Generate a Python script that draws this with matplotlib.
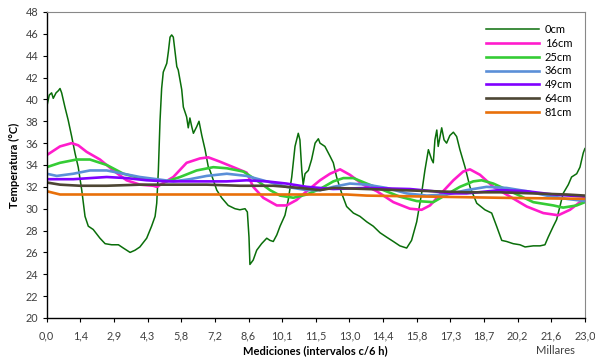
import numpy as np
import matplotlib
matplotlib.use("Agg")
import matplotlib.pyplot as plt

plt.rcParams['font.family'] = ['Lato', 'DejaVu Sans']

# x in thousands of measurements (Millares)
x_0 = [0.00, 0.11, 0.21, 0.28, 0.40, 0.50, 0.57, 0.64, 0.78, 0.92, 1.07, 1.21, 1.35, 1.50, 1.57, 1.64,
       1.78, 1.99, 2.28, 2.50, 2.78, 3.07, 3.28, 3.57, 3.78, 3.99, 4.28, 4.49, 4.64, 4.71, 4.78, 4.85,
       4.92, 4.99, 5.14, 5.21, 5.28, 5.35, 5.42, 5.57, 5.63, 5.78, 5.85, 5.99, 6.06, 6.13, 6.21, 6.28,
       6.42, 6.52, 6.64, 6.78, 6.92, 6.99, 7.28, 7.49, 7.77, 8.06, 8.27, 8.49, 8.59, 8.66, 8.70, 8.84,
       8.99, 9.20, 9.42, 9.56, 9.70, 9.85, 9.99, 10.20, 10.34, 10.49, 10.63, 10.77, 10.84, 10.92, 10.98,
       11.06, 11.20, 11.34, 11.49, 11.63, 11.70, 11.91, 12.13, 12.27, 12.41, 12.63, 12.84, 13.13, 13.41,
       13.70, 13.98, 14.27, 14.55, 14.84, 15.12, 15.41, 15.62, 15.84, 16.05, 16.19, 16.34, 16.48, 16.55,
       16.62, 16.70, 16.76, 16.91, 17.01, 17.12, 17.26, 17.41, 17.55, 17.69, 17.91, 18.12, 18.41, 18.76,
       19.05, 19.26, 19.48, 19.69, 19.97, 20.26, 20.48, 20.83, 21.12, 21.33, 21.47, 21.69, 21.83, 21.97,
       22.11, 22.33, 22.47, 22.69, 22.83, 22.97, 23.04]
t_0 = [39.3, 40.4, 40.6, 40.1, 40.6, 40.8, 41.0, 40.6, 39.3, 38.1, 36.6, 35.1, 33.8, 31.7, 30.5, 29.3,
       28.4, 28.1, 27.3, 26.8, 26.7, 26.7, 26.4, 26.0, 26.2, 26.5, 27.3, 28.4, 29.3, 30.5, 33.5, 38.0,
       41.0, 42.5, 43.3, 44.4, 45.7, 45.9, 45.7, 43.0, 42.7, 40.9, 39.3, 38.4, 37.4, 38.3, 37.5, 36.9,
       37.5, 38.0, 36.7, 35.4, 33.8, 33.5, 31.7, 31.0, 30.3, 30.0, 29.9, 30.0, 29.7, 27.4, 24.9, 25.3,
       26.2, 26.8, 27.3, 27.1, 27.0, 27.6, 28.4, 29.4, 30.8, 32.9, 35.7, 36.9, 36.3, 33.5, 32.2,
       33.2, 33.5, 34.5, 36.0, 36.4, 36.0, 35.7, 34.8, 34.2, 32.9, 31.4, 30.2, 29.6, 29.3,
       28.8, 28.4, 27.8, 27.4, 27.0, 26.6, 26.4, 27.1, 28.8, 31.4, 33.5, 35.4, 34.5, 34.2,
       36.3, 37.2, 35.7, 37.4, 36.3, 36.0, 36.7, 37.0, 36.6, 35.4, 33.8, 32.0, 30.5, 29.9,
       29.6, 28.4, 27.1, 27.0, 26.8, 26.7, 26.5, 26.6, 26.6, 26.7, 27.4, 28.4, 29.0, 30.2,
       31.4, 32.2, 32.9, 33.2, 33.8, 35.1, 35.5]

x_16 = [0.00, 0.57, 1.07, 1.35, 1.71, 2.28, 2.85, 3.42, 3.99, 4.56, 4.72, 5.42, 5.99, 6.56, 6.92, 7.42,
        7.99, 8.56, 8.84, 9.27, 9.85, 10.27, 10.70, 11.13, 11.70, 12.13, 12.56, 12.98, 13.55, 14.13,
        14.84, 15.55, 16.05, 16.41, 16.84, 17.41, 17.83, 18.12, 18.55, 19.12, 19.84, 20.55, 21.26,
        21.90, 22.40, 22.83, 23.04]
t_16 = [34.9, 35.7, 36.0, 35.8, 35.2, 34.5, 33.5, 32.6, 32.2, 32.1, 32.0, 32.9, 34.2, 34.6, 34.7, 34.3,
        33.8, 33.3, 32.0, 31.0, 30.3, 30.3, 30.8, 31.6, 32.6, 33.2, 33.6, 33.1, 32.2, 31.6,
        30.6, 30.0, 29.9, 30.3, 31.3, 32.6, 33.4, 33.6, 33.1, 32.0, 31.1, 30.2, 29.6,
        29.4, 29.9, 30.6, 31.1]

x_25 = [0.00, 0.57, 1.28, 1.85, 2.57, 3.28, 3.99, 4.71, 5.14, 5.71, 6.42, 7.13, 7.71, 8.42, 8.99, 9.56,
        9.99, 10.56, 11.13, 11.70, 12.27, 12.70, 13.13, 13.70, 14.41, 15.12, 15.84, 16.55, 17.12,
        17.69, 18.26, 18.62, 19.12, 19.84, 20.83, 21.69, 22.11, 22.69, 23.04]
t_25 = [33.8, 34.2, 34.5, 34.5, 34.0, 33.2, 32.8, 32.6, 32.5, 32.9, 33.5, 33.8, 33.7, 33.4, 32.6, 31.7,
        31.2, 31.0, 31.3, 31.8, 32.5, 32.8, 32.8, 32.3, 31.7, 31.1, 30.7, 30.6, 31.3,
        32.0, 32.5, 32.6, 32.3, 31.6, 30.6, 30.3, 30.1, 30.3, 30.6]

x_36 = [0.00, 0.43, 1.14, 1.85, 2.57, 3.28, 3.99, 4.71, 5.42, 6.13, 6.85, 7.71, 8.56, 9.42, 10.27,
        11.13, 11.70, 12.27, 12.98, 13.70, 14.55, 15.41, 16.27, 17.12, 17.98, 18.83, 19.69, 20.55,
        21.40, 22.26, 23.04]
t_36 = [33.2, 33.0, 33.2, 33.5, 33.5, 33.2, 32.9, 32.7, 32.5, 32.7, 33.0, 33.2, 33.0, 32.5, 32.0,
        31.7, 31.7, 32.0, 32.3, 32.2, 31.9, 31.4, 31.2, 31.3, 31.7, 32.0, 31.9, 31.6,
        31.2, 30.9, 30.7]

x_49 = [0.00, 0.57, 1.14, 1.85, 2.57, 3.42, 4.28, 5.14, 5.99, 6.85, 7.71, 8.56, 9.42, 10.27, 11.13,
        11.70, 12.27, 13.70, 15.55, 16.55, 17.26, 17.98, 19.41, 20.55, 21.69, 23.04]
t_49 = [32.7, 32.7, 32.7, 32.8, 32.9, 32.8, 32.6, 32.5, 32.5, 32.5, 32.5, 32.6, 32.5, 32.3, 32.0,
        31.9, 31.8, 31.9, 31.8, 31.6, 31.4, 31.4, 31.7, 31.6, 31.3, 31.1]

x_64 = [0.00, 0.57, 1.43, 2.57, 3.99, 5.42, 6.85, 8.27, 9.70, 10.84, 11.70, 12.27, 13.70, 15.12,
        16.55, 17.98, 19.41, 20.83, 22.26, 23.04]
t_64 = [32.4, 32.2, 32.1, 32.1, 32.2, 32.2, 32.2, 32.1, 32.1, 31.9, 31.7, 31.9, 31.8, 31.7,
        31.6, 31.5, 31.5, 31.4, 31.3, 31.2]

x_81 = [0.00, 0.57, 1.43, 3.99, 6.85, 9.70, 11.70, 12.84, 13.70, 16.55, 19.41, 23.04]
t_81 = [31.6, 31.3, 31.3, 31.3, 31.3, 31.3, 31.3, 31.3, 31.2, 31.1, 31.0, 30.9]

series = [
    ('0cm', x_0, t_0, '#0a6e0a', 1.1),
    ('16cm', x_16, t_16, '#ff1ccc', 1.9),
    ('25cm', x_25, t_25, '#35cc35', 1.9),
    ('36cm', x_36, t_36, '#5b8fd8', 1.9),
    ('49cm', x_49, t_49, '#8000ff', 1.9),
    ('64cm', x_64, t_64, '#4d4634', 1.9),
    ('81cm', x_81, t_81, '#e8700a', 1.9),
]

x_ticks = [0.0, 1.44, 2.88, 4.32, 5.76, 7.2, 8.64, 10.08, 11.52, 12.96, 14.4, 15.84, 17.28, 18.72,
           20.16, 21.6, 23.04]
x_labels = ['0,0', '1,4', '2,9', '4,3', '5,8', '7,2', '8,6', '10,1', '11,5', '13,0', '14,4', '15,8',
            '17,3', '18,7', '20,2', '21,6', '23,0']
y_ticks = list(range(20, 49, 2))

fig = plt.figure(figsize=(5.95, 3.6), dpi=100)
ax = fig.add_axes([0.0785, 0.1167, 0.9045, 0.85])

for name, xs, ts, col, lw in series:
    ax.plot(xs, ts, color=col, lw=lw, label=name)

ax.set_xlim(0, 23.04)
ax.set_ylim(20, 48)
ax.set_xticks(x_ticks)
ax.set_xticklabels(x_labels)
ax.set_yticks(y_ticks)
ax.tick_params(axis='both', direction='out', length=3, width=0.8, labelsize=7.8,
               labelcolor='#404040', pad=3)
ax.tick_params(axis='x', pad=6)
for s in ['left', 'bottom']:
    ax.spines[s].set_color('black')
    ax.spines[s].set_linewidth(1.0)
for s in ['top', 'right']:
    ax.spines[s].set_color('#888888')
    ax.spines[s].set_linewidth(0.8)

ax.set_ylabel('Temperatura (°C)', fontsize=8, fontweight='bold', labelpad=4)
ax.set_xlabel('Mediciones (intervalos c/6 h)', fontsize=8, fontweight='bold', labelpad=3)
fig.text(0.933, 0.012, 'Millares', fontsize=8, ha='center', va='bottom', color='#404040')

ax.legend(loc='upper right', bbox_to_anchor=(0.985, 0.975), frameon=False, fontsize=8,
          handlelength=4.7, labelspacing=0.25, handletextpad=0.55, borderaxespad=0)

fig.savefig('out.png', dpi=100)
